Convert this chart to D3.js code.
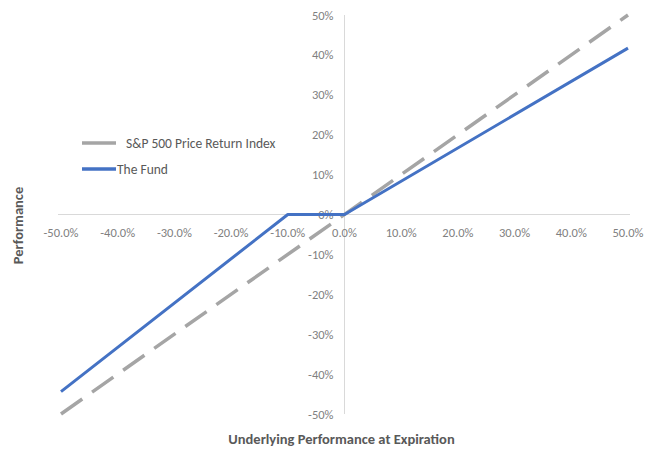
<!DOCTYPE html>
<html>
<head>
<meta charset="utf-8">
<script src="https://cdn.jsdelivr.net/npm/d3@7"></script>
<style>
  body { margin: 0; background: #fff; }
  svg text { font-family: Calibri, Carlito, "Liberation Sans", "Open Sans", sans-serif; }
</style>
</head>
<body>
<svg width="645" height="450"></svg>
<script>
// data (underlying return, performance) in %
var xTicks = [-50, -40, -30, -20, -10, 0, 10, 20, 30, 40, 50];
var yTicks = [-50, -40, -30, -20, -10, 0, 10, 20, 30, 40, 50];
var spxX = [-50, 50];
var spxY = [-50, 50];
var fundX = [-50, -10, 0, 50];
var fundY = [-44.4, 0, 0, 41.7];

var svg = d3.select("svg");

// scales
var scX = d3.scaleLinear().domain([-50, 50]).range([61, 628]);
var scY = d3.scaleLinear().domain([-50, 50]).range([414, 15]);

// zero gridline and vertical axis
svg.append("line")
    .attr("x1", 58).attr("x2", 630)
    .attr("y1", scY(0)).attr("y2", scY(0))
    .attr("stroke", "#d9d9d9").attr("stroke-width", 1);
svg.append("line")
    .attr("x1", scX(0)).attr("x2", scX(0))
    .attr("y1", scY(50)).attr("y2", scY(-50))
    .attr("stroke", "#d9d9d9").attr("stroke-width", 1);

// tick labels
svg.append("g").selectAll("text")
    .data(xTicks).enter()
    .append("text")
    .attr("x", d => scX(d))
    .attr("y", scY(0) + 22)
    .attr("text-anchor", "middle")
    .attr("font-size", 12.5)
    .attr("fill", "#7f7f7f")
    .text(d => d.toFixed(1) + "%");

svg.append("g").selectAll("text")
    .data(yTicks).enter()
    .append("text")
    .attr("x", scX(0) - 11)
    .attr("y", d => scY(d) + 4.5)
    .attr("text-anchor", "end")
    .attr("font-size", 12.5)
    .attr("fill", "#7f7f7f")
    .text(d => d + "%");

// series
var line = d3.line().x(d => scX(d[0])).y(d => scY(d[1]));

svg.append("path")
    .attr("fill", "none")
    .attr("stroke", "#a5a5a5")
    .attr("stroke-width", 3.5)
    .attr("stroke-dasharray", "26,12")
    .attr("d", line(d3.zip(spxX, spxY)));

svg.append("path")
    .attr("fill", "none")
    .attr("stroke", "#4472c4")
    .attr("stroke-width", 3)
    .attr("stroke-linejoin", "round")
    .attr("d", line(d3.zip(fundX, fundY)));

// legend
var legend = [
    {name: "S&P 500 Price Return Index", color: "#a5a5a5", y: 143},
    {name: "The Fund", color: "#4472c4", y: 169}
];
var lg = svg.append("g").selectAll("g")
    .data(legend).enter()
    .append("g");
lg.append("line")
    .attr("x1", 82).attr("x2", 116)
    .attr("y1", d => d.y).attr("y2", d => d.y)
    .attr("stroke", d => d.color)
    .attr("stroke-width", 3.5);
lg.append("text")
    .attr("x", d => d.name === "The Fund" ? 117 : 126)
    .attr("y", d => d.y + 4.5)
    .attr("font-size", 13.5)
    .attr("fill", "#595959")
    .text(d => d.name);

// axis titles
svg.append("text")
    .attr("x", scX(0) - 3)
    .attr("y", 444)
    .attr("text-anchor", "middle")
    .attr("font-size", 14.5)
    .attr("font-weight", "bold")
    .attr("fill", "#595959")
    .text("Underlying Performance at Expiration");

svg.append("text")
    .attr("transform", "translate(23," + (scY(0) + 11) + ") rotate(-90)")
    .attr("text-anchor", "middle")
    .attr("font-size", 14.5)
    .attr("font-weight", "bold")
    .attr("fill", "#595959")
    .text("Performance");
</script>
</body>
</html>
